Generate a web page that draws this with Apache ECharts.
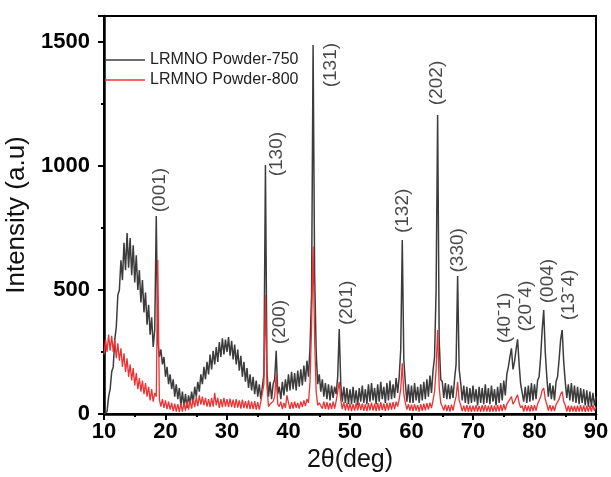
<!DOCTYPE html>
<html>
<head>
<meta charset="utf-8">
<script src="https://cdn.jsdelivr.net/npm/echarts@6/dist/echarts.min.js"></script>
<style>
  html, body { margin: 0; padding: 0; background: #fff; }
  #xrd-chart { width: 611px; height: 477px; }
</style>
</head>
<body>
<div id="xrd-chart"></div>
<script>
// 2theta grid: 10 to 90 deg, 0.25 deg steps
const startAngle = 10;
const stepAngle = 0.25;

// LRMNO Powder-750 intensities (a.u)
const black10to30 = [
    0, 0, 10, 70, 100, 170, 190, 300,
    350, 480, 500, 620, 540, 690, 580, 730,
    590, 710, 560, 680, 530, 640, 500, 580,
    450, 540, 410, 490, 360, 440, 320, 390,
    270, 340, 798, 290, 230, 260, 200, 230,
    150, 190, 120, 160, 100, 140, 70, 120,
    60, 105, 35, 90, 30, 80, 25, 75,
    40, 90, 45, 110, 70, 130, 90, 160,
    120, 190, 140, 210, 160, 240, 180, 255,
    200, 270, 210, 290, 230, 305, 240, 300
];
const black30to50 = [
    250, 310, 235, 295, 220, 280, 200, 260,
    175, 235, 150, 210, 130, 185, 105, 160,
    95, 150, 80, 135, 70, 120, 60, 110,
    160, 1004, 170, 70, 130, 60, 120, 140,
    255, 80, 110, 60, 130, 75, 140, 90,
    160, 95, 170, 100, 165, 95, 175, 110,
    180, 115, 195, 130, 215, 150, 270, 480,
    1488, 560, 250, 120, 160, 90, 140, 70,
    125, 60, 120, 55, 115, 65, 110, 80,
    150, 343, 120, 50, 110, 45, 105, 40
];
const black50to70 = [
    100, 40, 110, 45, 95, 35, 105, 50,
    115, 45, 100, 40, 120, 50, 125, 55,
    105, 40, 120, 50, 130, 60, 110, 45,
    125, 55, 135, 60, 120, 65, 145, 85,
    150, 260, 702, 220, 125, 50, 120, 45,
    115, 45, 125, 55, 110, 45, 120, 55,
    130, 60, 140, 70, 155, 85, 175, 230,
    500, 1206, 300, 140, 130, 65, 125, 60,
    120, 60, 115, 65, 140, 200, 556, 180,
    125, 55, 115, 45, 110, 40, 105, 45
];
const black70to90 = [
    115, 50, 100, 35, 110, 45, 105, 40,
    120, 45, 105, 40, 115, 50, 100, 35,
    110, 45, 125, 55, 135, 75, 160, 190,
    230, 265, 180, 210, 260, 301, 200, 120,
    115, 50, 110, 45, 115, 50, 125, 55,
    120, 60, 135, 150, 230, 340, 419, 250,
    150, 70, 125, 60, 115, 55, 130, 150,
    220, 300, 339, 210, 130, 65, 120, 55,
    125, 50, 115, 45, 110, 40, 105, 45,
    100, 35, 95, 30, 90, 30, 85, 35,
    70
];

// LRMNO Powder-800 intensities (a.u)
const red10to30 = [
    240, 300, 250, 320, 255, 315, 250, 300,
    225, 285, 215, 265, 190, 245, 170, 225,
    150, 200, 135, 185, 115, 165, 100, 145,
    90, 135, 80, 125, 70, 110, 55, 100,
    50, 85, 70, 621, 60, 30, 60, 25,
    55, 20, 50, 18, 45, 12, 42, 10,
    40, 8, 42, 10, 45, 14, 50, 18,
    55, 22, 60, 28, 68, 32, 75, 38,
    70, 35, 65, 30, 60, 28, 65, 30,
    85, 35, 65, 25, 60, 28, 65, 30
];
const red30to50 = [
    60, 28, 62, 28, 58, 25, 60, 26,
    55, 22, 58, 24, 52, 22, 55, 20,
    50, 20, 52, 18, 48, 18, 50, 55,
    120, 480, 110, 30, 40, 35, 50, 70,
    160, 40, 30, 50, 20, 45, 25, 75,
    45, 20, 48, 22, 50, 25, 45, 22,
    50, 28, 55, 32, 60, 45, 130, 350,
    675, 300, 90, 35, 45, 40, 22, 50,
    20, 48, 18, 45, 20, 50, 22, 52,
    60, 130, 55, 20, 48, 15, 45, 14
];
const red50to70 = [
    42, 12, 40, 14, 44, 15, 46, 16,
    42, 13, 40, 12, 44, 15, 46, 14,
    42, 12, 44, 14, 48, 16, 42, 13,
    45, 15, 46, 18, 48, 20, 50, 30,
    60, 100, 205, 80, 45, 18, 40, 14,
    38, 12, 40, 14, 36, 10, 40, 13,
    42, 15, 44, 18, 46, 24, 55, 90,
    180, 339, 110, 45, 40, 15, 38, 12,
    36, 10, 38, 14, 45, 70, 130, 55,
    36, 12, 34, 10, 36, 10, 34, 9
];
const red70to90 = [
    34, 10, 36, 10, 33, 9, 36, 10,
    36, 10, 34, 9, 36, 10, 34, 10,
    36, 11, 38, 12, 40, 16, 40, 45,
    60, 70, 40, 50, 65, 77, 45, 25,
    34, 10, 36, 11, 34, 10, 36, 12,
    36, 14, 40, 45, 70, 95, 104, 60,
    40, 14, 36, 11, 34, 12, 38, 45,
    60, 80, 90, 50, 35, 10, 34, 9,
    34, 10, 33, 9, 34, 10, 36, 10,
    34, 9, 33, 10, 34, 10, 36, 12,
    30
];

// reflection labels and where they sit
const peakLabels = ['(001)', '(130)', '(200)', '(131)', '(201)', '(132)', '(202)', '(330)',
    '(40\u02C91)', '(20\u02C94)', '(004)', '(13\u02C94)'];
const labelAngles = [19.1, 38.1, 38.6, 46.8, 49.5, 58.6, 64.1, 67.6, 75.2, 78.6, 82.2, 85.6];
const labelHeights = [903, 1048, 371, 1407, 448, 819, 1335, 660, 387, 435, 536, 480];

const xTicks = { min: 10, max: 90, interval: 10 };
const yTicks = { min: 0, max: 1605, interval: 500 };

const FONT = 'Arial, "Liberation Sans", sans-serif';

function toPairs(values) {
    return values.map((v, i) => [startAngle + i * stepAngle, v]);
}

const black750 = toPairs([].concat(black10to30, black30to50, black50to70, black70to90));
const red800 = toPairs([].concat(red10to30, red30to50, red50to70, red70to90));
const labelData = peakLabels.map((name, i) => [labelAngles[i], labelHeights[i], name]);

const chart = echarts.init(document.getElementById('xrd-chart'));

const axisCommon = {
    axisLine: { show: true, lineStyle: { color: '#000', width: 2.5 } },
    axisTick: { show: true, inside: false, length: 6, lineStyle: { color: '#000', width: 2 } },
    minorTick: { show: true, splitNumber: 2, length: 3, lineStyle: { color: '#000', width: 2 } },
    splitLine: { show: false },
    minorSplitLine: { show: false }
};

const option = {
    backgroundColor: '#fff',
    animation: false,
    color: ['#3c3c3c', '#ec3232'],
    grid: {
        left: 104, right: 15, top: 16, bottom: 63,
        outerBoundsMode: 'none',
        containLabel: false,
        show: true, borderColor: '#000', borderWidth: 2, backgroundColor: 'transparent'
    },
    legend: {
        data: ['LRMNO Powder-750', 'LRMNO Powder-800'],
        orient: 'vertical',
        left: 105,
        top: 50,
        padding: 0,
        icon: 'path://M0,0 H40 V1.5 H0 Z',
        itemWidth: 40,
        itemHeight: 1.5,
        itemGap: 0,
        textStyle: { fontFamily: FONT, fontSize: 16, color: '#222', lineHeight: 20, height: 20 }
    },
    xAxis: Object.assign({
        type: 'value',
        min: xTicks.min,
        max: xTicks.max,
        interval: xTicks.interval,
        name: '2\u03B8(deg)',
        nameLocation: 'middle',
        nameGap: 30,
        nameTextStyle: { fontFamily: FONT, fontSize: 25, color: '#111', verticalAlign: 'top' },
        axisLabel: { fontFamily: FONT, fontSize: 22, fontWeight: 'bold', color: '#000', margin: 7 }
    }, axisCommon),
    yAxis: Object.assign({
        type: 'value',
        min: yTicks.min,
        max: yTicks.max,
        interval: yTicks.interval,
        name: 'Intensity (a.u)',
        nameLocation: 'middle',
        nameGap: 67,
        nameTextStyle: { fontFamily: FONT, fontSize: 26, color: '#111' },
        axisLabel: {
            fontFamily: FONT, fontSize: 22, fontWeight: 'bold', color: '#000', margin: 14,
            showMaxLabel: false, formatter: v => String(v)
        }
    }, axisCommon),
    series: [
        {
            name: 'LRMNO Powder-750',
            type: 'line',
            data: black750,
            symbol: 'none',
            lineStyle: { width: 1.5, color: '#3c3c3c' },
            z: 2
        },
        {
            name: 'LRMNO Powder-800',
            type: 'line',
            data: red800,
            symbol: 'none',
            lineStyle: { width: 1.3, color: '#ec3232' },
            z: 3
        },
        {
            name: 'labels',
            type: 'scatter',
            data: labelData,
            symbolSize: 0,
            silent: true,
            z: 4,
            label: {
                show: true,
                position: 'inside',
                rotate: 90,
                formatter: p => p.data[2],
                fontFamily: FONT,
                fontSize: 19,
                color: '#1a1a1a'
            }
        }
    ]
};

chart.setOption(option);
</script>
</body>
</html>
